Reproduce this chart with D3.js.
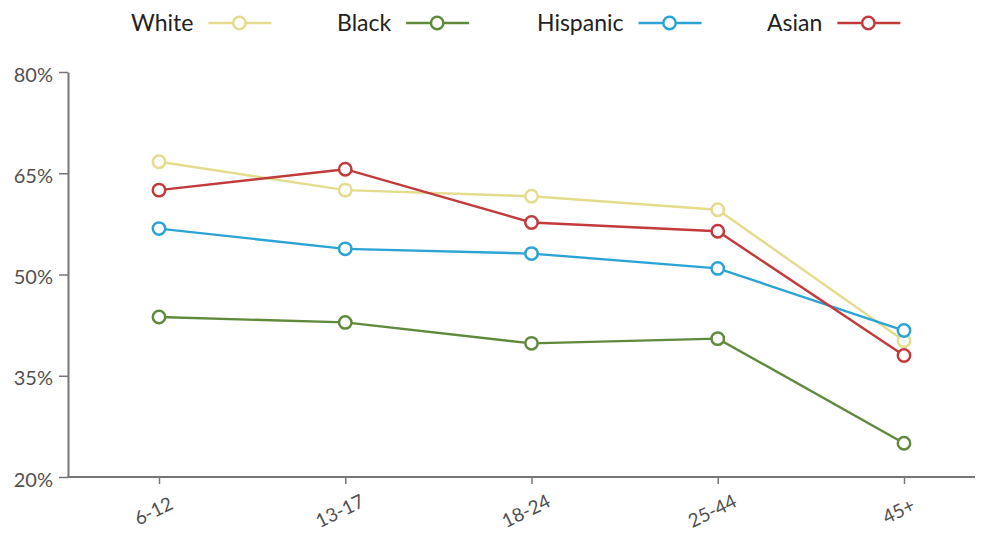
<!DOCTYPE html>
<html>
<head>
<meta charset="utf-8">
<script src="https://cdn.jsdelivr.net/npm/d3@7"></script>
<style>
  html, body { margin: 0; padding: 0; background: #fff; }
  svg text { font-family: Lato, "Open Sans", sans-serif; }
</style>
</head>
<body>
<div id="chart"></div>
<script>
// Age groups along the x axis
const ageGroups = ["6-12", "13-17", "18-24", "25-44", "45+"];

// Share per group, in percent
const white    = [66.7, 62.5, 61.6, 59.6, 40.2];
const black    = [43.7, 42.9, 39.8, 40.5, 25.0];
const hispanic = [56.8, 53.8, 53.1, 50.9, 41.7];
const asian    = [62.5, 65.6, 57.7, 56.4, 38.0];

const yTicks = [20, 35, 50, 65, 80];

const seriesNames = ["White", "Black", "Hispanic", "Asian"];
const seriesValues = [white, black, hispanic, asian];
const seriesColors = ["#e4dc8c", "#5f8a3c", "#2ba3d6", "#c23a3c"];

const W = 986, H = 537;

const svg = d3.select("#chart")
    .append("svg")
    .attr("width", W)
    .attr("height", H);

const axisX0 = 68, axisX1 = 975;

const x = d3.scalePoint()
    .domain(ageGroups)
    .range([159, 904]);

const y = d3.scaleLinear()
    .domain([20, 80])
    .range([477, 72]);

// Y axis
const gY = svg.append("g")
    .attr("transform", `translate(${axisX0},0)`)
    .call(d3.axisLeft(y)
        .tickValues(yTicks)
        .tickSize(9)
        .tickSizeOuter(0)
        .tickPadding(6)
        .tickFormat(d => d + "%"));

gY.select(".domain").attr("stroke", "#777").attr("stroke-width", 2);
gY.selectAll(".tick line").attr("stroke", "#777").attr("stroke-width", 1.5);
gY.selectAll(".tick text")
    .attr("fill", "#505050")
    .attr("dy", "0.45em")
    .style("font-size", "20px");

// X axis
const gX = svg.append("g")
    .attr("transform", `translate(0,${y(20)})`)
    .call(d3.axisBottom(x).tickSize(7).tickSizeOuter(0));

gX.select(".domain").remove();
gX.append("line")
    .attr("x1", axisX0 - 1)
    .attr("x2", axisX1)
    .attr("stroke", "#777")
    .attr("stroke-width", 2);
gX.selectAll(".tick line").attr("stroke", "#777").attr("stroke-width", 1.5);
gX.selectAll(".tick text")
    .attr("fill", "#505050")
    .style("font-size", "19px")
    .attr("text-anchor", "middle")
    .attr("y", 0)
    .attr("dy", 0)
    .attr("transform", "translate(-3,40) rotate(-26)");

// Lines and markers
const line = d3.line()
    .x((d, i) => x(ageGroups[i]))
    .y(d => y(d));

seriesValues.forEach((vals, s) => {
    svg.append("path")
        .datum(vals)
        .attr("fill", "none")
        .attr("stroke", seriesColors[s])
        .attr("stroke-width", 2.4)
        .attr("d", line);

    svg.selectAll(".dot-" + s)
        .data(vals)
        .enter()
        .append("circle")
        .attr("class", "dot-" + s)
        .attr("cx", (d, i) => x(ageGroups[i]))
        .attr("cy", d => y(d))
        .attr("r", 6.2)
        .attr("fill", "#fff")
        .attr("stroke", seriesColors[s])
        .attr("stroke-width", 2.5);
});

// Legend
const legendX = [131, 337, 537, 767];
const legend = svg.selectAll(".legend")
    .data(seriesNames)
    .enter().append("g")
    .attr("class", "legend")
    .attr("transform", (d, i) => `translate(${legendX[i]},23)`);

legend.append("text")
    .attr("dy", "0.35em")
    .attr("fill", "#222")
    .style("font-size", "23px")
    .text(d => d);

legend.each(function (d, i) {
    const g = d3.select(this);
    const tw = g.select("text").node().getComputedTextLength();
    const x0 = tw + 15;
    g.append("line")
        .attr("x1", x0)
        .attr("x2", x0 + 63)
        .attr("stroke", seriesColors[i])
        .attr("stroke-width", 2.5);
    g.append("circle")
        .attr("cx", x0 + 31)
        .attr("r", 6.2)
        .attr("fill", "#fff")
        .attr("stroke", seriesColors[i])
        .attr("stroke-width", 2.5);
});
</script>
</body>
</html>
